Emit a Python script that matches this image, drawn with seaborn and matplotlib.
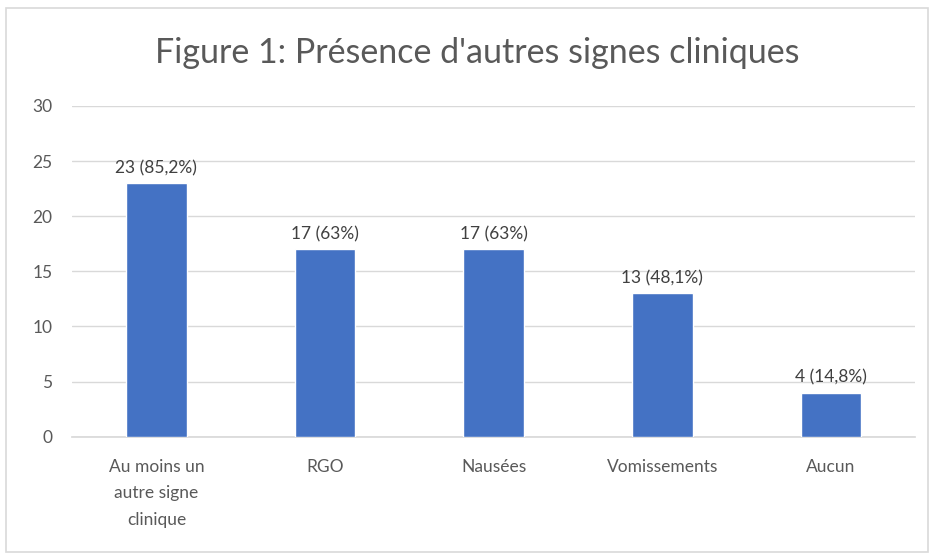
import pandas as pd
import matplotlib.pyplot as plt
import seaborn as sns
from matplotlib.patches import Rectangle

# =============================================================================
# Data
# =============================================================================

categories = ['Au moins un\nautre signe\nclinique', 'RGO', 'Nausées', 'Vomissements', 'Aucun']
counts = [23, 17, 17, 13, 4]
bar_labels = ['23 (85,2%)', '17 (63%)', '17 (63%)', '13 (48,1%)', '4 (14,8%)']
y_ticks = [0, 5, 10, 15, 20, 25, 30]

df = pd.DataFrame({'signe': categories, 'n': counts})

# =============================================================================
# Plot
# =============================================================================

sns.set_theme(style='white')
plt.rcParams['font.family'] = ['Lato', 'DejaVu Sans']

fig = plt.figure(figsize=(9.36, 5.6), dpi=100)
ax = fig.add_axes([0.077, 0.22, 0.901, 0.591])

sns.barplot(data=df, x='signe', y='n', color='#4472C4', width=0.36,
            saturation=1, ax=ax, zorder=3)

for c in ax.containers:
    ax.bar_label(c, labels=bar_labels, padding=5, fontsize=12.5, color='#404040')

ax.set_ylim(0, 30)
ax.set_yticks(y_ticks)
ax.yaxis.grid(True, color='#D9D9D9', linewidth=1, zorder=0)
ax.set_axisbelow(True)
for s in ['top', 'right', 'left']:
    ax.spines[s].set_visible(False)
ax.spines['bottom'].set_color('#D9D9D9')
ax.tick_params(axis='both', length=0, labelsize=12.5, labelcolor='#595959')
ax.tick_params(axis='y', pad=14)
ax.tick_params(axis='x', pad=16)
for lbl in ax.get_xticklabels():
    lbl.set_linespacing(1.8)
ax.set_xlabel('')
ax.set_ylabel('')

fig.text(0.51, 0.905, "Figure 1: Présence d'autres signes cliniques",
         ha='center', va='center', fontsize=24.5, color='#595959')

# chart border
fig.patches.append(Rectangle((0.006, 0.015), 0.985, 0.97, transform=fig.transFigure,
                             fill=False, edgecolor='#D9D9D9', linewidth=1.2))

fig.savefig('out.png', dpi=100)
